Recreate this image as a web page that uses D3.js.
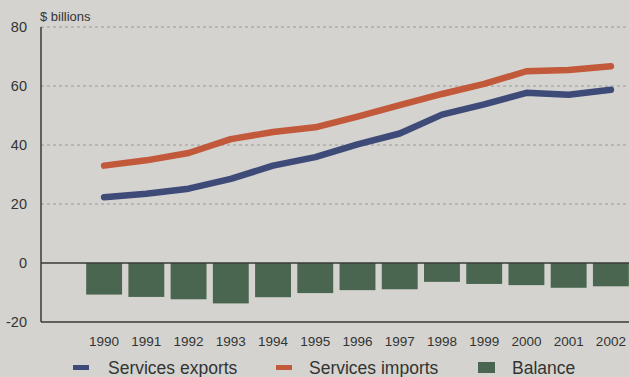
<!DOCTYPE html>
<html>
<head>
<meta charset="utf-8">
<script src="https://cdn.jsdelivr.net/npm/d3@7/dist/d3.min.js"></script>
<style>
  html, body { margin: 0; padding: 0; background: #d4d3cf; }
  svg { display: block; }
  text { font-family: "Liberation Sans", Arial, sans-serif; fill: #333; }
</style>
</head>
<body>
<svg id="chart" width="629" height="377"></svg>
<script>
// U.S. trade in services, $ billions
const years = ["1990","1991","1992","1993","1994","1995","1996","1997","1998","1999","2000","2001","2002"];
const exportsVals = [22.3, 23.5, 25.2, 28.5, 33.0, 35.9, 40.2, 43.9, 50.3, 53.8, 57.7, 57.0, 58.7];
const importsVals = [33.0, 34.8, 37.3, 42.0, 44.4, 46.0, 49.6, 53.5, 57.3, 60.7, 65.0, 65.4, 66.7];
const balanceVals = [-10.7, -11.5, -12.3, -13.7, -11.6, -10.2, -9.2, -8.9, -6.4, -7.1, -7.5, -8.4, -7.9];
const yTicks = [80, 60, 40, 20, 0, -20];

const svg = d3.select("#chart");
const plotLeft = 41, plotRight = 629, plotTop = 27, plotBottom = 322;

const x = d3.scaleBand().domain(years).range([83, 632]).paddingInner(0.15).paddingOuter(0.075);
const y = d3.scaleLinear().domain([-20, 80]).range([plotBottom, plotTop]);
const cx = d => x(d) + x.bandwidth() / 2;

// dashed gridlines
svg.append("g").selectAll("line")
  .data(yTicks.filter(t => t > 0))
  .join("line")
  .attr("x1", plotLeft).attr("x2", plotRight)
  .attr("y1", d => y(d)).attr("y2", d => y(d))
  .attr("stroke", "#9a9a98").attr("stroke-width", 1)
  .attr("stroke-dasharray", "3,3");

// balance bars
svg.append("g").selectAll("rect")
  .data(years.map((yr, i) => ({ yr, v: balanceVals[i] })))
  .join("rect")
  .attr("x", d => x(d.yr))
  .attr("width", x.bandwidth())
  .attr("y", d => y(Math.max(0, d.v)))
  .attr("height", d => Math.abs(y(d.v) - y(0)))
  .attr("fill", "#4b6650");

// zero line and axes
svg.append("line").attr("x1", plotLeft).attr("x2", plotRight).attr("y1", y(0)).attr("y2", y(0))
  .attr("stroke", "#3a3a3a").attr("stroke-width", 1.5);
svg.append("line").attr("x1", plotLeft).attr("x2", plotRight).attr("y1", y(-20)).attr("y2", y(-20))
  .attr("stroke", "#3a3a3a").attr("stroke-width", 1.5);
svg.append("line").attr("x1", plotLeft).attr("x2", plotLeft).attr("y1", y(80)).attr("y2", y(-20))
  .attr("stroke", "#3a3a3a").attr("stroke-width", 1.5);

// y tick labels (plain hyphen for negatives)
const yAxis = d3.axisLeft(y).tickValues(yTicks).tickFormat(d => String(d)).tickSize(0).tickPadding(14);
const gy = svg.append("g").attr("transform", `translate(${plotLeft},0)`).call(yAxis);
gy.select(".domain").remove();
gy.selectAll("text").attr("font-size", 14.5).attr("fill", "#333")
  .attr("font-family", "Liberation Sans, Arial, sans-serif");

// x tick labels
const xAxis = d3.axisBottom(x).tickSize(0).tickPadding(14);
const gx = svg.append("g").attr("transform", `translate(0,${plotBottom})`).call(xAxis);
gx.select(".domain").remove();
gx.selectAll("text").attr("font-size", 13.5).attr("fill", "#333")
  .attr("font-family", "Liberation Sans, Arial, sans-serif");

// lines
const line = d3.line().x(d => cx(d.yr)).y(d => y(d.v));
[[importsVals, "#c2593a"], [exportsVals, "#3e4a78"]].forEach(([vals, col]) => {
  svg.append("path")
    .datum(years.map((yr, i) => ({ yr, v: vals[i] })))
    .attr("d", line)
    .attr("fill", "none")
    .attr("stroke", col)
    .attr("stroke-width", 6.5)
    .attr("stroke-linecap", "round")
    .attr("stroke-linejoin", "round");
});

// unit label
svg.append("text").attr("x", 40).attr("y", 21).attr("font-size", 13).text("$ billions");

// legend
const legend = [
  { label: "Services exports", color: "#3e4a78", type: "line", sx: 73, tx: 108 },
  { label: "Services imports", color: "#c2593a", type: "line", sx: 276, tx: 309 },
  { label: "Balance", color: "#4b6650", type: "box", sx: 478, tx: 512 }
];
const lg = svg.append("g");
legend.forEach(d => {
  if (d.type === "line") {
    lg.append("rect").attr("x", d.sx).attr("y", 365).attr("width", 16).attr("height", 5).attr("fill", d.color);
  } else {
    lg.append("rect").attr("x", d.sx).attr("y", 362).attr("width", 17).attr("height", 11).attr("fill", d.color);
  }
  lg.append("text").attr("x", d.tx).attr("y", 374).attr("font-size", 17.5).attr("fill", "#333").text(d.label);
});
</script>
</body>
</html>
